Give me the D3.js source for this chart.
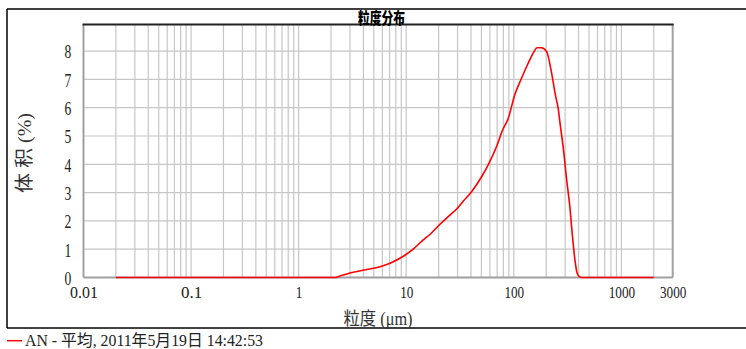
<!DOCTYPE html>
<html>
<head>
<meta charset="utf-8">
<script src="https://cdn.jsdelivr.net/npm/d3@7"></script>
<style>
  html, body { margin: 0; padding: 0; background: #fff; }
  svg { display: block; }
</style>
</head>
<body>
<div id="chart"></div>
<script>
// ---- data ----
const titleText = "粒度分布";
const xLabelText = "粒度 (μm)";
const yLabelText = "体 积 (%)";
const legendText = "AN - 平均, 2011年5月19日 14:42:53";

const xTickValues = [0.01, 0.1, 1, 10, 100, 1000, 3000];
const xTickLabels = ["0.01", "0.1", "1", "10", "100", "1000", "3000"];
const yTickValues = [0, 1, 2, 3, 4, 5, 6, 7, 8];

// particle size (μm) and volume (%)
const sizes   = [0.02, 2.2, 2.33, 2.6, 3.0, 4.3, 5.7, 7.5, 9.4, 11.6, 14.4, 16.6, 20.6, 25.0, 29.4, 34.0, 40.5, 50.2, 57.8, 69.0, 78.7, 88.7, 102, 118, 136, 151, 165, 181, 202, 224, 245, 258, 270, 288, 310, 332, 349, 370, 388, 410, 427, 2000];
const volumes = [0,    0,   0.03, 0.09, 0.16, 0.28, 0.38, 0.55, 0.75, 1.00, 1.33, 1.52, 1.88, 2.18, 2.42, 2.70, 3.03, 3.56, 3.98, 4.62, 5.21, 5.62, 6.45, 7.04, 7.57, 7.92, 8.12, 8.12, 7.98, 7.25, 6.40, 6.00, 5.40, 4.60, 3.45, 2.50, 1.56, 0.62, 0.15, 0.02, 0, 0];

// ---- layout ----
const W = 746, H = 349;
const plot = { left: 83.5, right: 672.7, top: 24.5, bottom: 277.5 };

const svg = d3.select("#chart").append("svg")
  .attr("width", W).attr("height", H);

const x = d3.scaleLog().domain([0.01, 3000]).range([plot.left, plot.right]);
const y = d3.scaleLinear().domain([0, 8.94]).range([plot.bottom, plot.top]);

// outer frame
svg.append("line").attr("x1", 7).attr("x2", W).attr("y1", 9).attr("y2", 9)
  .attr("stroke", "#000").attr("stroke-width", 1.5);
svg.append("line").attr("x1", 7).attr("x2", 7).attr("y1", 9).attr("y2", 328)
  .attr("stroke", "#000").attr("stroke-width", 1.5);
svg.append("line").attr("x1", 7).attr("x2", W).attr("y1", 328).attr("y2", 328)
  .attr("stroke", "#000").attr("stroke-width", 1.5);

// grid lines
const gridX = [];
for (let k = -2; k <= 3; k++) {
  for (let m = 1; m <= 9; m++) {
    const v = m * Math.pow(10, k);
    if (v > 0.01 * 1.0001 && v < 3000 * 0.9999) gridX.push(v);
  }
}
const grid = svg.append("g").attr("stroke", "#c6c6c6").attr("stroke-width", 1.2);
grid.selectAll("line.gx").data(gridX).join("line")
  .attr("class", "gx")
  .attr("x1", d => x(d)).attr("x2", d => x(d))
  .attr("y1", plot.top).attr("y2", plot.bottom);
grid.selectAll("line.gy").data(yTickValues.filter(d => d > 0)).join("line")
  .attr("class", "gy")
  .attr("x1", plot.left).attr("x2", plot.right)
  .attr("y1", d => y(d)).attr("y2", d => y(d));

// plot frame
svg.append("line").attr("x1", plot.left).attr("x2", plot.left).attr("y1", plot.top).attr("y2", plot.bottom)
  .attr("stroke", "#a0a0a0").attr("stroke-width", 2);
svg.append("line").attr("x1", plot.left).attr("x2", plot.right).attr("y1", plot.bottom).attr("y2", plot.bottom)
  .attr("stroke", "#a0a0a0").attr("stroke-width", 2);
svg.append("line").attr("x1", plot.right).attr("x2", plot.right).attr("y1", plot.top).attr("y2", plot.bottom)
  .attr("stroke", "#a0a0a0").attr("stroke-width", 2);
svg.append("line").attr("x1", plot.left - 1).attr("x2", plot.right + 1).attr("y1", plot.top).attr("y2", plot.top)
  .attr("stroke", "#222").attr("stroke-width", 2);

// curve
const pts = sizes.map((s, i) => [s, volumes[i]]);
svg.append("path")
  .datum(pts)
  .attr("fill", "none")
  .attr("stroke", "#ff0000")
  .attr("stroke-width", 1.6)
  .attr("d", d3.line().x(d => x(d[0])).y(d => y(d[1])).curve(d3.curveMonotoneX));

const numFont = "'Liberation Serif', 'Noto Sans CJK JP', serif";

// x axis
const labelLen = s => s.replace(".", "").length * 6.6 + (s.includes(".") ? 8 : 0);
const xAxis = d3.axisBottom(x)
  .tickValues(xTickValues)
  .tickFormat((d, i) => xTickLabels[i])
  .tickSize(0).tickPadding(0);
const gx = svg.append("g").attr("transform", `translate(0,${plot.bottom})`).call(xAxis);
gx.select(".domain").remove();
gx.selectAll("text")
  .attr("y", 20).attr("dy", 0)
  .attr("font-family", numFont).attr("font-size", 17).attr("fill", "#222")
  .attr("textLength", d => labelLen(xTickLabels[xTickValues.indexOf(d)]))
  .attr("lengthAdjust", "spacingAndGlyphs");

// y axis
const yAxis = d3.axisLeft(y).tickValues(yTickValues).tickFormat(d3.format("d"))
  .tickSize(0).tickPadding(0);
const gy = svg.append("g").attr("transform", `translate(${plot.left},0)`).call(yAxis);
gy.select(".domain").remove();
gy.selectAll("text")
  .attr("x", -15.5).attr("dy", "0.36em")
  .attr("text-anchor", "middle")
  .attr("font-family", numFont).attr("font-size", 19).attr("fill", "#222")
  .attr("textLength", 6.8).attr("lengthAdjust", "spacingAndGlyphs");

// title
svg.append("text")
  .attr("x", 381.5).attr("y", 23.5)
  .attr("text-anchor", "middle")
  .attr("font-family", "'Noto Sans CJK SC', sans-serif")
  .attr("font-weight", 900).attr("font-size", 16)
  .attr("textLength", 47).attr("lengthAdjust", "spacingAndGlyphs")
  .text(titleText);

// x label
svg.append("text")
  .attr("x", 378).attr("y", 325)
  .attr("text-anchor", "middle")
  .attr("font-family", numFont).attr("font-size", 18).attr("fill", "#333")
  .attr("textLength", 69).attr("lengthAdjust", "spacingAndGlyphs")
  .text(xLabelText);

// y label
svg.append("text")
  .attr("transform", "translate(31,153) rotate(-90)")
  .attr("text-anchor", "middle")
  .attr("font-family", numFont).attr("font-size", 19).attr("fill", "#333")
  .attr("textLength", 80).attr("lengthAdjust", "spacingAndGlyphs")
  .text(yLabelText);

// legend
svg.append("line").attr("x1", 7).attr("x2", 22).attr("y1", 340.7).attr("y2", 340.7)
  .attr("stroke", "#ff0000").attr("stroke-width", 1.5);
svg.append("text")
  .attr("x", 25).attr("y", 346)
  .attr("font-family", numFont).attr("font-size", 16).attr("fill", "#222")
  .attr("textLength", 238).attr("lengthAdjust", "spacingAndGlyphs")
  .text(legendText);
</script>
</body>
</html>
